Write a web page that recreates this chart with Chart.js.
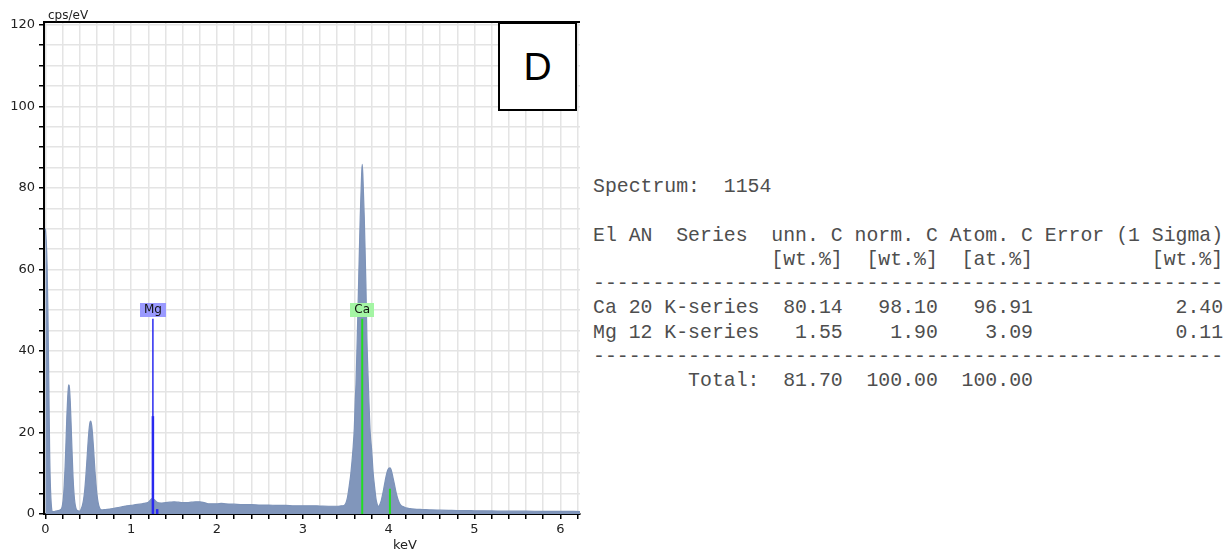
<!DOCTYPE html>
<html>
<head>
<meta charset="utf-8">
<title>EDS spectrum D</title>
<script src="https://cdn.jsdelivr.net/npm/chart.js"></script>
<style>
  body { margin: 0; background: #fff; width: 1227px; height: 550px; overflow: hidden; position: relative; }
  #wrap { position: absolute; left: 0; top: 0; width: 590px; height: 550px; }
  #tag {
    position: absolute; left: 498px; top: 22px; width: 79px; height: 89px;
    box-sizing: border-box; border: 2px solid #000; background: #fff;
    font-family: "Liberation Sans", Arial, sans-serif; font-size: 39px; color: #000;
    display: flex; align-items: center; justify-content: center;
  }
  #result {
    position: absolute; left: 593px; top: 175px; margin: 0;
    font-family: "Liberation Mono", "Courier New", monospace; font-size: 19.82px;
    line-height: 24.3px; color: #4e4e4e;
  }
</style>
</head>
<body>
<div id="wrap"><canvas id="spectrum" width="590" height="550"></canvas></div>
<div id="tag">D</div>
<pre id="result"></pre>
<script>
//spectrum: energy (keV) and intensity (cps/eV)
const energies = [
  0.00, 0.01, 0.02, 0.03, 0.04, 0.05, 0.06, 0.07, 0.08, 0.10, 0.12, 0.14, 0.16,
  0.18, 0.19, 0.20, 0.21, 0.22, 0.23, 0.24, 0.25, 0.26, 0.27, 0.274, 0.28, 0.29,
  0.30, 0.31, 0.32, 0.33, 0.34, 0.35, 0.36, 0.37, 0.38, 0.40,
  0.42, 0.43, 0.44, 0.45, 0.46, 0.47, 0.48, 0.49, 0.50, 0.51, 0.52, 0.527, 0.53,
  0.54, 0.55, 0.56, 0.57, 0.58, 0.59, 0.60, 0.61, 0.62, 0.63, 0.64, 0.66,
  0.70, 0.75, 0.80, 0.85, 0.90, 0.95, 1.00, 1.05, 1.10, 1.15, 1.20, 1.22, 1.245,
  1.27, 1.30, 1.35, 1.40, 1.45, 1.50, 1.55, 1.60, 1.65, 1.70, 1.75, 1.80, 1.85,
  1.90, 1.95, 2.00, 2.05, 2.10, 2.20, 2.30, 2.40, 2.50, 2.60, 2.70, 2.80, 2.90,
  3.00, 3.10, 3.20, 3.30, 3.40, 3.45, 3.48, 3.50, 3.52, 3.545, 3.56, 3.584,
  3.60, 3.611, 3.62, 3.634, 3.65, 3.669, 3.68, 3.692, 3.70, 3.716, 3.735, 3.747,
  3.76, 3.77, 3.785, 3.802, 3.82, 3.832, 3.855, 3.87, 3.88,
  3.89, 3.91, 3.93, 3.95, 3.97, 3.99, 4.015, 4.03, 4.05, 4.07, 4.09, 4.11, 4.13,
  4.15, 4.17, 4.20, 4.25, 4.30, 4.40, 4.50, 4.60, 4.70, 4.80, 4.90, 5.00, 5.20,
  5.40, 5.60, 5.80, 6.00, 6.23
];
const counts = [
  70, 67, 61, 49, 32, 15, 6, 2, 0.6, 0.6, 0.7, 0.8, 0.9,
  1.1, 1.4, 2.3, 4.0, 7.1, 11.6, 17.5, 23.8, 28.5, 31.4, 31.7, 31.1, 27.6,
  22.0, 15.8, 10.3, 6.1, 3.5, 2.0, 1.2, 0.9, 0.8, 0.7,
  1.4, 2.0, 2.9, 4.3, 6.2, 8.8, 11.8, 15.1, 18.3, 20.9, 22.5, 22.8, 22.7,
  21.7, 19.5, 16.5, 13.1, 9.9, 7.2, 5.0, 3.4, 2.3, 1.6, 1.2, 1.0,
  1.1, 1.2, 1.4, 1.6, 1.8, 2.0, 2.1, 2.3, 2.4, 2.6, 2.9, 3.3, 3.8,
  3.5, 2.9, 2.7, 2.8, 2.9, 3.0, 2.9, 2.8, 2.8, 2.9, 3.0, 3.0, 2.8,
  2.5, 2.5, 2.5, 2.6, 2.5, 2.4, 2.3, 2.3, 2.2, 2.2, 2.1, 2.1, 2.0,
  2.0, 2.0, 1.95, 1.9, 1.9, 2.0, 2.1, 2.6, 4.0, 7.5, 10, 15.7,
  21, 27.9, 32, 43, 56.5, 72.8, 80, 85.8, 83, 72.8, 56.5, 43,
  34, 27.9, 20, 15.7, 10, 7.5, 3.4, 2.2, 1.8,
  2.0, 3.0, 4.8, 7.0, 9.2, 10.8, 11.3, 10.8, 9.0, 7.0, 5.0, 3.5, 2.5,
  2.0, 1.8, 1.5, 1.3, 1.2, 1.1, 1.0, 0.95, 0.9, 0.85, 0.85, 0.8, 0.75,
  0.7, 0.7, 0.65, 0.65, 0.6
];

//identified element lines (keV) and marker heights (cps/eV)
const markerEnergy = [1.253, 1.253, 1.303, 3.692, 4.015];
const markerHeight = [47.9, 24.0, 1.2, 47.9, 6.2];
const markerElement = ['Mg', 'Mg', 'Mg', 'Ca', 'Ca'];

//element labels on top of the main lines
const labelNames = ['Mg', 'Ca'];
const labelEnergy = [1.253, 3.692];
const labelHeight = [47.9, 47.9];

//quantification table
const tableElements = ['Ca', 'Mg'];
const tableAN = ['20', '12'];
const tableSeries = ['K-series', 'K-series'];
const tableUnn = ['80.14', '1.55'];
const tableNorm = ['98.10', '1.90'];
const tableAtom = ['96.91', '3.09'];
const tableError = ['2.40', '0.11'];
const tableTotal = ['81.70', '100.00', '100.00'];
const spectrumName = '1154';

//colours per element
const elementColor = { Mg: '#2a2af0', Ca: '#22dd22' };
const elementFill = { Mg: '#9a9aff', Ca: '#a4f5a4' };
const markerWidth = [1.5, 2.5, 2.5, 2, 2];

//build the text block
const dashes = '-'.repeat(53);
let lines = [];
lines.push('Spectrum:  ' + spectrumName);
lines.push('');
lines.push('El AN  Series  unn. C norm. C Atom. C Error (1 Sigma)');
lines.push(' '.repeat(15) + '[wt.%]  [wt.%]  [at.%]' + ' '.repeat(10) + '[wt.%]');
lines.push(dashes);
for (let i = 0; i < tableElements.length; i++) {
  lines.push(tableElements[i] + ' ' + tableAN[i] + ' ' + tableSeries[i] +
    tableUnn[i].padStart(7) + tableNorm[i].padStart(8) + tableAtom[i].padStart(8) +
    tableError[i].padStart(16));
}
lines.push(dashes);
lines.push(' '.repeat(8) + 'Total:' + tableTotal[0].padStart(7) +
  tableTotal[1].padStart(8) + tableTotal[2].padStart(8));
document.getElementById('result').textContent = lines.join('\n');

//marker line datasets
const markerSets = markerEnergy.map((e, i) => ({
  data: [{ x: e, y: 0 }, { x: e, y: markerHeight[i] }],
  borderColor: elementColor[markerElement[i]],
  borderWidth: markerWidth[i],
  pointRadius: 0,
  fill: false,
}));

//draws top frame, element tags and axis titles
const overlay = {
  id: 'overlay',
  afterDatasetsDraw(chart) {
    const { ctx, chartArea, scales } = chart;
    ctx.save();
    ctx.strokeStyle = '#000';
    ctx.lineWidth = 2;
    ctx.beginPath();
    ctx.moveTo(chartArea.left - 1, chartArea.top);
    ctx.lineTo(chartArea.right, chartArea.top);
    ctx.stroke();

    ctx.font = '12px "DejaVu Sans"';
    ctx.textAlign = 'center';
    ctx.textBaseline = 'middle';
    labelNames.forEach((name, i) => {
      const x = scales.x.getPixelForValue(labelEnergy[i]);
      const y = scales.y.getPixelForValue(labelHeight[i]);
      const w = ctx.measureText(name).width + 8;
      ctx.fillStyle = elementFill[name];
      ctx.fillRect(Math.round(x - w / 2), Math.round(y - 16), Math.round(w), 14);
      ctx.fillStyle = '#111';
      ctx.fillText(name, x, y - 8.5);
    });

    ctx.fillStyle = '#222';
    ctx.textBaseline = 'alphabetic';
    ctx.textAlign = 'left';
    ctx.fillText('cps/eV', chartArea.left + 4, 19);
    ctx.font = '13px "DejaVu Sans"';
    ctx.textAlign = 'center';
    ctx.fillText('keV', 405, 549);
    ctx.restore();
  }
};

const tickFont = { family: 'DejaVu Sans', size: 13 };

let myChart = new Chart(document.getElementById('spectrum'), {
  type: 'line',
  data: {
    datasets: [
      ...markerSets,
      {
        data: energies.map((e, i) => ({ x: e, y: counts[i] })),
        borderColor: '#7d93b9',
        borderWidth: 1.2,
        backgroundColor: '#8196bb',
        fill: 'origin',
        pointRadius: 0,
        cubicInterpolationMode: 'monotone',
      },
    ],
  },
  options: {
    responsive: false,
    animation: false,
    layout: { padding: { top: 22, right: 10, left: 0, bottom: 0 } },
    plugins: { legend: { display: false }, tooltip: { enabled: false } },
    scales: {
      x: {
        type: 'linear',
        min: -0.016,
        max: 6.23,
        afterFit: (s) => { s.height = 36; },
        border: { color: '#000', width: 2 },
        grid: { color: '#e4e4e4', lineWidth: 1.5, tickColor: '#000', tickWidth: 1.5, tickLength: 5 },
        ticks: {
          stepSize: 0.2,
          autoSkip: false,
          maxRotation: 0,
          includeBounds: false,
          padding: 3,
          color: '#222',
          font: tickFont,
          callback: (v) => Math.abs(v - Math.round(v)) < 1e-6 ? String(Math.round(v)) : '',
        },
      },
      y: {
        min: 0,
        max: 120.7,
        afterFit: (s) => { s.width = 44; },
        border: { color: '#000', width: 2 },
        grid: { color: '#e4e4e4', lineWidth: 1.5, tickColor: '#000', tickWidth: 1.5, tickLength: 5 },
        ticks: {
          stepSize: 5,
          autoSkip: false,
          includeBounds: false,
          padding: 4,
          color: '#222',
          font: tickFont,
          callback: (v) => v % 20 === 0 ? String(v) : '',
        },
      },
    },
  },
  plugins: [overlay],
});
</script>
</body>
</html>
